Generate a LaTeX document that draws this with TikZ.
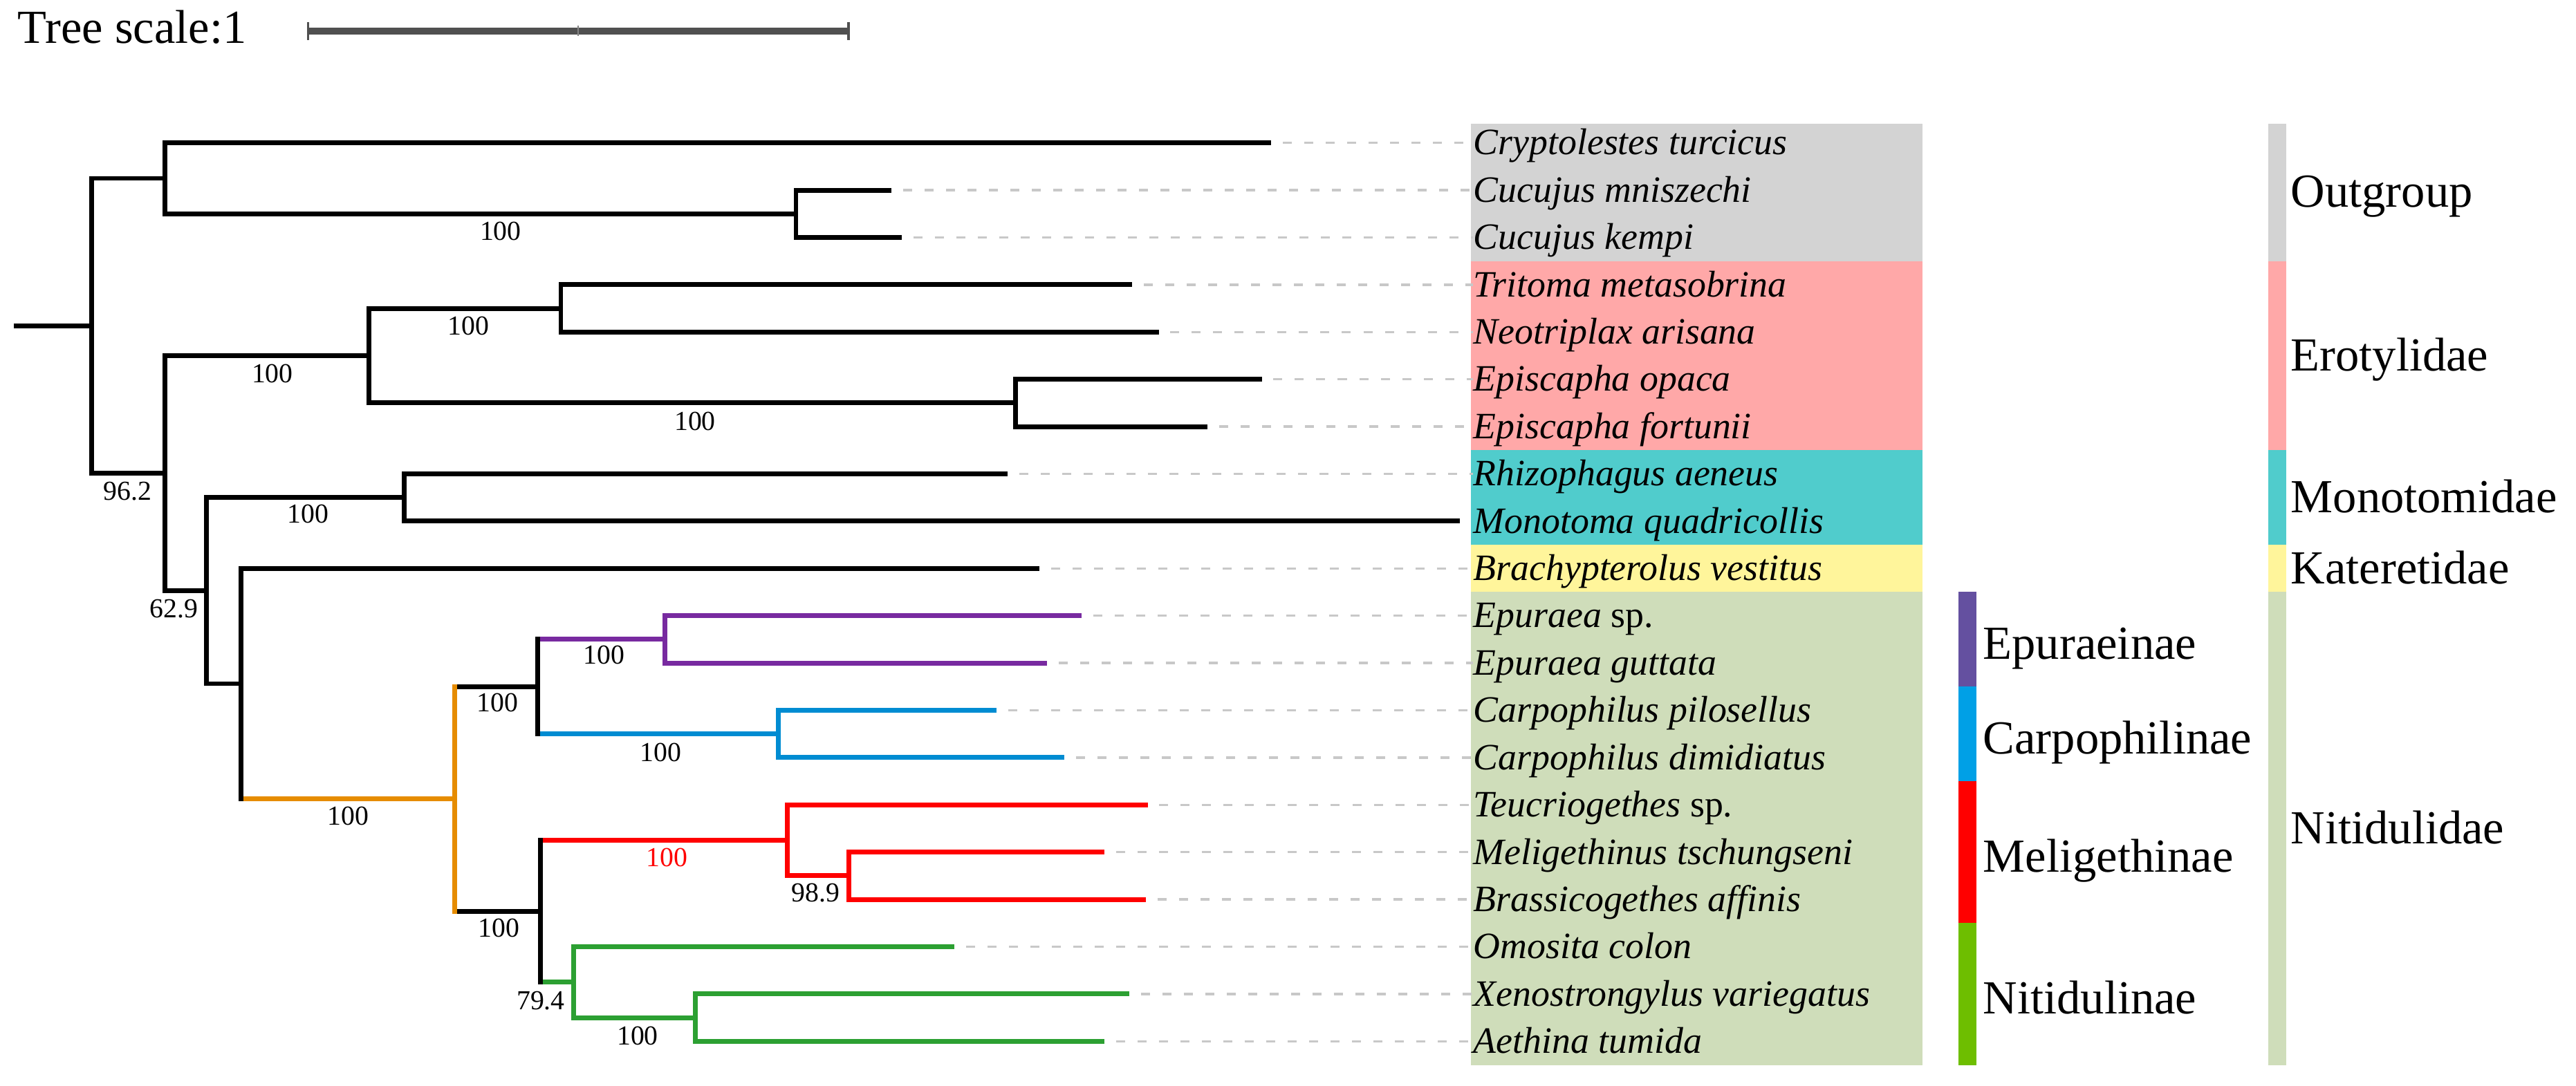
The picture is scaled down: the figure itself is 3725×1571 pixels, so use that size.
\documentclass[tikz,border=0pt]{standalone}
\usepackage{fontspec}
\setmainfont{Liberation Serif}
\definecolor{cgray}{RGB}{211,211,211}
\definecolor{cpink}{RGB}{255,168,168}
\definecolor{cteal}{RGB}{80,204,204}
\definecolor{cyell}{RGB}{255,245,155}
\definecolor{cgreen}{RGB}{207,221,186}
\definecolor{bpurple}{RGB}{100,80,160}
\definecolor{bblue}{RGB}{0,160,230}
\definecolor{bred}{RGB}{255,0,0}
\definecolor{bgreen}{RGB}{110,190,0}
\definecolor{tpurple}{RGB}{120,42,160}
\definecolor{tblue}{RGB}{0,140,210}
\definecolor{tred}{RGB}{255,0,0}
\definecolor{tgreen}{RGB}{44,160,50}
\definecolor{torange}{RGB}{230,140,0}
\definecolor{dashgray}{RGB}{200,200,200}
\definecolor{sbgray}{RGB}{80,80,80}
\tikzset{
  sp/.style={anchor=base west, inner sep=0pt, font=\fontsize{15.3}{18}\selectfont\itshape},
  grp/.style={anchor=base west, inner sep=0pt, font=\fontsize{19.5}{23}\selectfont},
  bs/.style={inner sep=0pt, font=\fontsize{11.3}{13}\selectfont},
  br/.style={line width=1.95pt, line cap=rect},
  dl/.style={draw=dashgray, line width=1pt, dash pattern=on 0.13cm off 0.18cm},
}
\newcommand\treeH[3]{\draw[br,#1] (#2 |- #3) -- (#3);}
\newcommand\treeV[4]{\draw[br,#1] (#2 |- #3) -- (#2 |- #4);}
\begin{document}
\begin{tikzpicture}[x=0.01cm, y=-0.01cm]
\useasboundingbox (0,0) rectangle (3725,1571);

% ---- colour blocks behind the names
\fill[cgray]  (2127,179.3) rectangle (2780,377.7);
\fill[cpink]  (2127,377.7) rectangle (2780,651.3);
\fill[cteal]  (2127,651.3) rectangle (2780,788.1);
\fill[cyell]  (2127,788.1) rectangle (2780,856.5);
\fill[cgreen] (2127,856.5) rectangle (2780,1540.5);

% ---- family bar
\fill[cgray]  (3280,179.3) rectangle (3306,377.7);
\fill[cpink]  (3280,377.7) rectangle (3306,651.3);
\fill[cteal]  (3280,651.3) rectangle (3306,788.1);
\fill[cyell]  (3280,788.1) rectangle (3306,856.5);
\fill[cgreen] (3280,856.5) rectangle (3306,1540.5);
\node[grp] (gOut) at (3312,299.5) {Outgroup};
\node[grp] (gEro) at (3312,536.5) {Erotylidae};
\node[grp] (gMon) at (3312,741.7) {Monotomidae};
\node[grp] (gKat) at (3312,844.3) {Kateretidae};
\node[grp] (gNit) at (3312,1220.5) {Nitidulidae};

% ---- subfamily bar
\fill[bpurple] (2832,856.5) rectangle (2858,993.3);
\fill[bblue]   (2832,993.3) rectangle (2858,1130.1);
\fill[bred]    (2832,1130.1) rectangle (2858,1335.3);
\fill[bgreen]  (2832,1335.3) rectangle (2858,1540.5);
\node[grp] (sEpu) at (2867,953.9) {Epuraeinae};
\node[grp] (sCar) at (2867,1090.7) {Carpophilinae};
\node[grp] (sMel) at (2867,1261.7) {Meligethinae};
\node[grp] (sNit) at (2867,1466.9) {Nitidulinae};

% ---- scale
\node[grp] (tscale) at (25,62.7) {Tree scale:1};
\coordinate (sb1) at (445.3,45);
\coordinate (sb2) at (1227.2,45);
\coordinate (sbm) at (836.3,45);
\draw[line width=2.6pt, sbgray] (sb1) -- (sb2);
\draw[line width=1pt, sbgray] ([yshift=0.133cm]sb1) -- ([yshift=-0.133cm]sb1);
\draw[line width=1pt, sbgray] ([yshift=0.133cm]sb2) -- ([yshift=-0.133cm]sb2);
\draw[line width=0.6pt, sbgray!70] ([yshift=0.075cm]sbm) -- ([yshift=-0.075cm]sbm);

% ---- tips
\coordinate (t1) at (1834.8,206.7);
\coordinate (t2) at (1285.7,275.1);
\coordinate (t3) at (1300.9,343.5);
\coordinate (t4) at (1633.9,411.9);
\coordinate (t5) at (1672.3,480.3);
\coordinate (t6) at (1821.4,548.7);
\coordinate (t7) at (1742.9,617.1);
\coordinate (t8) at (1453.6,685.5);
\coordinate (t9) at (2107.1,753.9);
\coordinate (t10) at (1500,822.3);
\coordinate (t11) at (1560.7,890.7);
\coordinate (t12) at (1510.7,959.1);
\coordinate (t13) at (1437.5,1027.5);
\coordinate (t14) at (1535.7,1095.9);
\coordinate (t15) at (1656.3,1164.3);
\coordinate (t16) at (1593.8,1232.7);
\coordinate (t17) at (1653.6,1301.1);
\coordinate (t18) at (1376.8,1369.5);
\coordinate (t19) at (1629.5,1437.9);
\coordinate (t20) at (1593.8,1506.3);

% ---- species names
\node[sp] (s1)  at (2130,224.0)  {Cryptolestes turcicus};
\node[sp] (s2)  at (2130,292.4)  {Cucujus mniszechi};
\node[sp] (s3)  at (2130,360.8)  {Cucujus kempi};
\node[sp] (s4)  at (2130,429.2)  {Tritoma metasobrina};
\node[sp] (s5)  at (2130,497.6)  {Neotriplax arisana};
\node[sp] (s6)  at (2130,566.0)  {Episcapha opaca};
\node[sp] (s7)  at (2130,634.4)  {Episcapha fortunii};
\node[sp] (s8)  at (2130,702.8)  {Rhizophagus aeneus};
\node[sp] (s9)  at (2130,771.2)  {Monotoma quadricollis};
\node[sp] (s10) at (2130,839.6)  {Brachypterolus vestitus};
\node[sp] (s11) at (2130,908.0)  {Epuraea \upshape sp.};
\node[sp] (s12) at (2130,976.4)  {Epuraea guttata};
\node[sp] (s13) at (2130,1044.8) {Carpophilus pilosellus};
\node[sp] (s14) at (2130,1113.2) {Carpophilus dimidiatus};
\node[sp] (s15) at (2130,1181.6) {Teucriogethes \upshape sp.};
\node[sp] (s16) at (2130,1250.0) {Meligethinus tschungseni};
\node[sp] (s17) at (2130,1318.4) {Brassicogethes affinis};
\node[sp] (s18) at (2130,1386.8) {Omosita colon};
\node[sp] (s19) at (2130,1455.2) {Xenostrongylus variegatus};
\node[sp] (s20) at (2130,1523.6) {Aethina tumida};

% ---- dotted leaders
\foreach \i in {1,...,8,10,11,...,20}{
  \draw[dl] ([xshift=0.2cm]t\i) -- (t\i -| s\i.west);
}

% ---- internal nodes
\coordinate (rs)   at (23,471.2);
\coordinate (nR)   at (132.7,471.2);
\coordinate (nO)   at (238.8,258);
\coordinate (nCuc) at (1151,309.3);
\coordinate (nER)  at (238.8,684.4);
\coordinate (nE)   at (533.2,514.5);
\coordinate (nTr)  at (811,446.1);
\coordinate (nEp)  at (1468.8,582.9);
\coordinate (nMK)  at (298.5,854.35);
\coordinate (nM)   at (584.6,719.7);
\coordinate (nK)   at (348.3,989);
\coordinate (nN)   at (657.5,1155.75);
\coordinate (nEC)  at (777.8,993.3);
\coordinate (nEpu) at (961.9,924.9);
\coordinate (nCa)  at (1125.2,1061.7);
\coordinate (nMN)  at (781.9,1318.2);
\coordinate (nMe)  at (1138.5,1215.6);
\coordinate (nBM)  at (1227.2,1266.9);
\coordinate (nNi)  at (829.2,1420.8);
\coordinate (nXA)  at (1005.8,1472.1);

% ---- horizontal branches
\draw[br,black] (rs) -- (nR);
\treeH{black}{nR}{nO}
\treeH{black}{nR}{nER}
\treeH{black}{nO}{t1}
\treeH{black}{nO}{nCuc}
\treeH{black}{nCuc}{t2}
\treeH{black}{nCuc}{t3}
\treeH{black}{nER}{nE}
\treeH{black}{nER}{nMK}
\treeH{black}{nE}{nTr}
\treeH{black}{nE}{nEp}
\treeH{black}{nTr}{t4}
\treeH{black}{nTr}{t5}
\treeH{black}{nEp}{t6}
\treeH{black}{nEp}{t7}
\treeH{black}{nMK}{nM}
\treeH{black}{nMK}{nK}
\treeH{black}{nM}{t8}
\treeH{black}{nM}{t9}
\treeH{black}{nK}{t10}
\treeH{torange}{nK}{nN}
\treeH{black}{nN}{nEC}
\treeH{black}{nN}{nMN}
\treeH{tpurple}{nEC}{nEpu}
\treeH{tblue}{nEC}{nCa}
\treeH{tpurple}{nEpu}{t11}
\treeH{tpurple}{nEpu}{t12}
\treeH{tblue}{nCa}{t13}
\treeH{tblue}{nCa}{t14}
\treeH{tred}{nMN}{nMe}
\treeH{tgreen}{nMN}{nNi}
\treeH{tred}{nMe}{t15}
\treeH{tred}{nMe}{nBM}
\treeH{tred}{nBM}{t16}
\treeH{tred}{nBM}{t17}
\treeH{tgreen}{nNi}{t18}
\treeH{tgreen}{nNi}{nXA}
\treeH{tgreen}{nXA}{t19}
\treeH{tgreen}{nXA}{t20}

% ---- vertical branches
\treeV{black}{nR}{nO}{nER}
\treeV{black}{nO}{t1}{nCuc}
\treeV{black}{nCuc}{t2}{t3}
\treeV{black}{nER}{nE}{nMK}
\treeV{black}{nE}{nTr}{nEp}
\treeV{black}{nTr}{t4}{t5}
\treeV{black}{nEp}{t6}{t7}
\treeV{black}{nMK}{nM}{nK}
\treeV{black}{nM}{t8}{t9}
\treeV{black}{nK}{t10}{nN}
\treeV{torange}{nN}{nEC}{nMN}
\treeV{black}{nEC}{nEpu}{nCa}
\treeV{tpurple}{nEpu}{t11}{t12}
\treeV{tblue}{nCa}{t13}{t14}
\treeV{black}{nMN}{nMe}{nNi}
\treeV{tred}{nMe}{t15}{nBM}
\treeV{tred}{nBM}{t16}{t17}
\treeV{tgreen}{nNi}{t18}{nXA}
\treeV{tgreen}{nXA}{t19}{t20}

% ---- support values
\node[bs] (bCuc) at (723.9,334.5) {100};
\node[bs] (bTr)  at (677.4,471.5) {100};
\node[bs] (bE)   at (393.9,540.4) {100};
\node[bs] (bEp)  at (1005,609.2) {100};
\node[bs] (bER)  at (184.1,710.7) {96.2};
\node[bs] (bM)   at (445.3,743.3) {100};
\node[bs] (bMK)  at (251.2,880.6) {62.9};
\node[bs] (bN)   at (503.3,1180.6) {100};
\node[bs] (bEC)  at (719.7,1016.7) {100};
\node[bs] (bEpu) at (873.1,947.2) {100};
\node[bs] (bCa)  at (955.2,1088.9) {100};
\node[bs] (bMN)  at (721.4,1342.8) {100};
\node[bs,text=tred] (bMe) at (964.3,1240) {100};
\node[bs] (bBM)  at (1179.1,1291.7) {98.9};
\node[bs] (bNi)  at (781.9,1448) {79.4};
\node[bs] (bXA)  at (922,1498.3) {100};
\end{tikzpicture}
\end{document}
